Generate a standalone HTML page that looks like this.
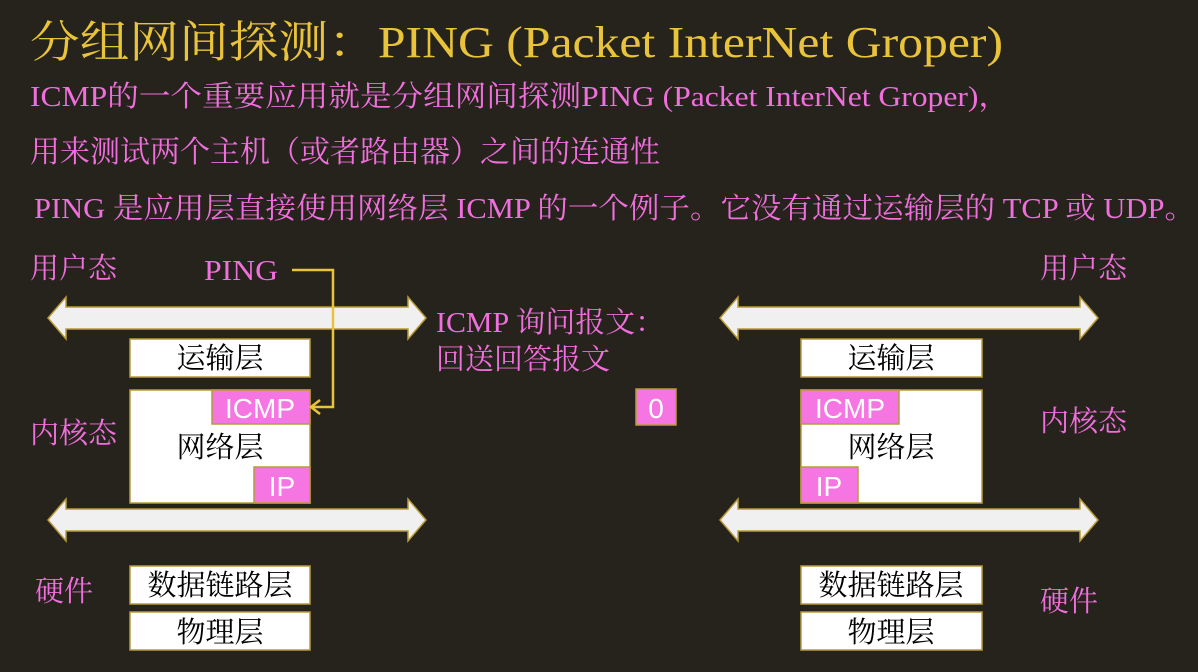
<!DOCTYPE html>
<html><head><meta charset="utf-8"><style>
html,body{margin:0;padding:0;background:#26231d;}
svg{display:block}
.s{font-family:"Liberation Serif","Noto Serif CJK SC",serif;}
.a{font-family:"Liberation Sans","Noto Sans CJK SC",sans-serif;}
</style></head><body>
<svg width="1198" height="672" viewBox="0 0 1198 672" xmlns="http://www.w3.org/2000/svg">
<rect width="1198" height="672" fill="#26231d"/>
<text class="s" x="30" y="57" font-size="44" fill="#e9c43a" textLength="973" lengthAdjust="spacingAndGlyphs">分组网间探测：PING (Packet InterNet Groper)</text>
<g class="s" fill="#f06fdc" font-size="29">
<text x="30" y="106" textLength="980" lengthAdjust="spacingAndGlyphs">ICMP的一个重要应用就是分组网间探测PING (Packet InterNet Groper)，</text>
<text x="30" y="162" font-size="30">用来测试两个主机（或者路由器）之间的连通性</text>
<text x="34" y="218" textLength="1161" lengthAdjust="spacingAndGlyphs">PING 是应用层直接使用网络层 ICMP 的一个例子。它没有通过运输层的 TCP 或 UDP。</text>
<text x="30" y="278">用户态</text>
<text x="204" y="280" textLength="74" lengthAdjust="spacingAndGlyphs">PING</text>
<text x="30" y="443">内核态</text>
<text x="35" y="601">硬件</text>
<text x="1040" y="278">用户态</text>
<text x="1040" y="431">内核态</text>
<text x="1040" y="611">硬件</text>
<text x="436" y="332" textLength="229" lengthAdjust="spacingAndGlyphs">ICMP 询问报文：</text>
<text x="436" y="369">回送回答报文</text>
</g>
<g fill="#f0f0f0" stroke="#b89a3a" stroke-width="1.5">
<polygon points="48,318 66,297 66,307 408,307 408,297 426,318 408,339 408,329 66,329 66,339"/>
<polygon points="48,520 66,499 66,509 408,509 408,499 426,520 408,541 408,531 66,531 66,541"/>
<polygon points="720,318 738,297 738,307 1080,307 1080,297 1098,318 1080,339 1080,329 738,329 738,339"/>
<polygon points="720,520 738,499 738,509 1080,509 1080,499 1098,520 1080,541 1080,531 738,531 738,541"/>
</g>
<g stroke="#b89a3a" stroke-width="1.5">
<rect x="130" y="339" width="180" height="38" fill="#fff"/>
<rect x="130" y="390" width="180" height="113" fill="#fff"/>
<rect x="212" y="390" width="98" height="34" fill="#f575e3"/>
<rect x="254" y="467" width="56" height="36" fill="#f575e3"/>
<rect x="130" y="566" width="180" height="38" fill="#fff"/>
<rect x="130" y="612" width="180" height="38" fill="#fff"/>
<rect x="801" y="339" width="181" height="38" fill="#fff"/>
<rect x="801" y="390" width="181" height="113" fill="#fff"/>
<rect x="801" y="390" width="98" height="34" fill="#f575e3"/>
<rect x="801" y="467" width="57" height="36" fill="#f575e3"/>
<rect x="801" y="566" width="181" height="38" fill="#fff"/>
<rect x="801" y="612" width="181" height="38" fill="#fff"/>
<rect x="636" y="389" width="40" height="36" fill="#f575e3"/>
</g>
<g class="s" font-size="29" fill="#000" text-anchor="middle">
<text x="220" y="368">运输层</text>
<text x="220" y="457">网络层</text>
<text x="220" y="595">数据链路层</text>
<text x="220" y="642">物理层</text>
<text x="891" y="368">运输层</text>
<text x="891" y="457">网络层</text>
<text x="891" y="595">数据链路层</text>
<text x="891" y="642">物理层</text>
</g>
<g class="a" font-size="28" fill="#fff" text-anchor="middle">
<text x="260" y="418">ICMP</text>
<text x="282" y="496">IP</text>
<text x="850" y="418">ICMP</text>
<text x="829" y="496">IP</text>
<text x="656" y="418">0</text>
</g>
<polyline points="292,270 333,270 333,407 312,407" fill="none" stroke="#e9c43a" stroke-width="2.5"/>
<polyline points="320,400 311,407 320,414" fill="none" stroke="#e9c43a" stroke-width="2.5"/>
</svg>
</body></html>
